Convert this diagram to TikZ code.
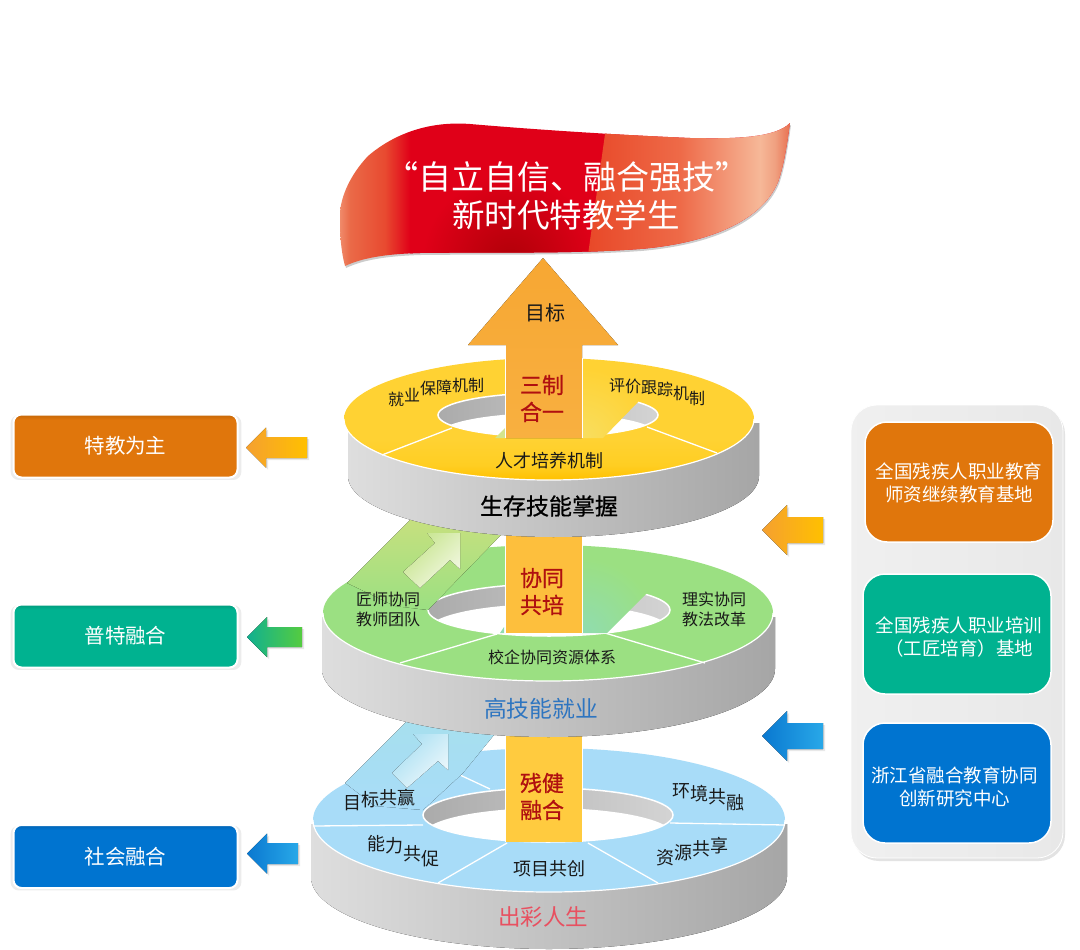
\documentclass[tikz,border=0pt]{standalone}
\usepackage{fontspec}
\setmainfont{Noto Sans CJK SC}
\newfontfamily\heavier[FakeBold=0.8]{Noto Sans CJK SC}
\usetikzlibrary{shadows}
\definecolor{cOrange}{HTML}{E0760C}\definecolor{cOrangeD}{HTML}{C46608}
\definecolor{cTeal}{HTML}{00B290}\definecolor{cTealD}{HTML}{009A7C}
\definecolor{cBlue}{HTML}{0074D0}\definecolor{cBlueD}{HTML}{0064B4}
\definecolor{rGreen}{HTML}{9BE082}\definecolor{rBlue}{HTML}{A8DCF8}
\definecolor{shaftRed}{HTML}{B01010}
\definecolor{yA}{HTML}{FFC000}\definecolor{yB}{HTML}{FFCE22}\definecolor{yC}{HTML}{FFD233}
\definecolor{bA}{HTML}{F08A6A}\definecolor{bB}{HTML}{EA6A48}\definecolor{bC}{HTML}{E84A30}\definecolor{bD}{HTML}{E00018}
\definecolor{bE}{HTML}{E84828}\definecolor{bF}{HTML}{EE6A48}\definecolor{bG}{HTML}{F29070}\definecolor{bH}{HTML}{F6B898}\definecolor{bI}{HTML}{F0A080}\definecolor{bJ}{HTML}{E87050}
\definecolor{bDark}{HTML}{B00008}
\definecolor{aO}{HTML}{F5A030}\definecolor{aG}{HTML}{55CC40}\definecolor{aT}{HTML}{10B090}\definecolor{aB}{HTML}{0A78D0}\definecolor{aC}{HTML}{28A8E8}
\definecolor{shA}{HTML}{F7A733}\definecolor{shAb}{HTML}{F8B040}\definecolor{shB}{HTML}{FDBF3D}\definecolor{shC}{HTML}{FFCB3F}
\definecolor{tBlue}{HTML}{2E75C0}\definecolor{tRose}{HTML}{E85060}
\definecolor{tmpA}{HTML}{A6E0EC}\definecolor{tmpB}{HTML}{A8DFF2}\definecolor{tmpC}{HTML}{EEF8FC}
\definecolor{tmpD}{HTML}{CDE07E}\definecolor{tmpE}{HTML}{C4E48A}\definecolor{tmpF}{HTML}{F4F8E4}
\definecolor{tmpG}{HTML}{90DCB0}\definecolor{tmpH}{HTML}{F8DE60}\definecolor{tmpI}{HTML}{D4E48C}
\pgfdeclareverticalshading{ringyellow}{100bp}{color(0bp)=(yA);color(25bp)=(yA);color(31bp)=(yB);color(42bp)=(yC);color(100bp)=(yC)}
\pgfdeclarehorizontalshading{bannerbase}{100bp}{color(0bp)=(bA);color(25bp)=(bA);color(26.1bp)=(bB);color(30bp)=(bC);color(32.8bp)=(bD);color(100bp)=(bD)}
\pgfdeclarehorizontalshading{bannerright}{100bp}{color(0bp)=(bE);color(25bp)=(bE);color(47.9bp)=(bF);color(57.8bp)=(bG);color(67.6bp)=(bH);color(71.3bp)=(bI);color(75bp)=(bJ);color(100bp)=(bJ)}
\pgfdeclareverticalshading{boxO}{100bp}{color(0bp)=(cOrange);color(71bp)=(cOrange);color(75bp)=(cOrangeD);color(100bp)=(cOrangeD)}
\pgfdeclareverticalshading{boxT}{100bp}{color(0bp)=(cTeal);color(71bp)=(cTeal);color(75bp)=(cTealD);color(100bp)=(cTealD)}
\pgfdeclareverticalshading{boxB}{100bp}{color(0bp)=(cBlue);color(71bp)=(cBlue);color(75bp)=(cBlueD);color(100bp)=(cBlueD)}
\pgfdeclareradialshading{fadeGreen}{\pgfpointorigin}{color(0bp)=(tmpG);color(22bp)=(rGreen);color(50bp)=(rGreen)}
\pgfdeclareradialshading{fadeYellow}{\pgfpointorigin}{color(0bp)=(tmpH);color(22bp)=(yC);color(50bp)=(yC)}
\pgfdeclareradialshading{fadeRed}{\pgfpointorigin}{color(0bp)=(bDark);color(22bp)=(bD);color(50bp)=(bD)}
\newcommand\fsz[1]{\fontsize{#1pt}{#1pt}\selectfont}
\newcommand\rb[2]{\raisebox{#1pt}{#2}}
\newcommand\sidewall[5]{\fill[left color=black!13,middle color=black!20,right color=black!35]
  ({#1-#3},{#2+4}) -- ({#1-#3},{#2+#5}) arc[start angle=180,end angle=360,x radius=#3pt,y radius=#4pt] -- ({#1+#3},{#2+4}) -- cycle;}
\newcommand\ringface[9]{%
  \path[#1] (#2,#3) ellipse[x radius=#4pt,y radius=#5pt];
  \draw[white,line width=1.2pt] ({#2-#4},#3) arc[start angle=180,end angle=360,x radius=#4pt,y radius=#5pt];
  \begin{scope}
    \clip (#6,#7) ellipse[x radius=#8pt,y radius=#9pt];
    \fill[left color=black!33,right color=black!17] ({#6-#8},{#7-#9}) rectangle ({#6+#8},{#7+#9});
    \fill[white] (#6,{#7+20}) ellipse[x radius=#8pt,y radius=#9pt];
  \end{scope}
  \draw[white,line width=1.5pt] (#6,#7) ellipse[x radius=#8pt,y radius=#9pt];}
\newcommand\sarrow[7]{%
  \fill[#7,drop shadow={opacity=.18,shadow xshift=2pt,shadow yshift=-2pt}]
   (#1,#3) -- (#2,{#3-#4}) -- (#2,{#3-#5}) -- (#6,{#3-#5}) -- (#6,{#3+#5}) -- (#2,{#3+#5}) -- (#2,{#3+#4}) -- cycle;}
\newcommand\bannerpath{(345,266) .. controls (362,258) and (385,254) .. (420,253) .. controls (500,252) and (570,254) .. (640,249) .. controls (700,244) and (760,225) .. (778,182) .. controls (784,165) and (787,145) .. (790,123) .. controls (775,138) and (735,139) .. (690,138) .. controls (620,135) and (540,130) .. (470,124) .. controls (430,121) and (395,133) .. (368,156) .. controls (350,175) and (338,200) .. (340,222) .. controls (340,240) and (342,255) .. (345,266) -- cycle}
\tikzset{
  lab/.style={inner sep=0pt,text=black!90},
  wlab/.style={inner sep=0pt,text=white,align=center},
  redlab/.style={inner sep=0pt,text=shaftRed,align=center},
  sidebox/.style={minimum width=224pt,minimum height=63pt,rounded corners=8pt,draw=white,line width=2pt,inner sep=0pt,
     text=white,shade,drop shadow={opacity=.15,shadow xshift=.5pt,shadow yshift=-1.5pt,shadow scale=1.03}},
  basebox/.style={minimum width=188pt,minimum height=120pt,rounded corners=22pt,draw=white,line width=1.5pt,inner sep=0pt,fill=#1},
  divider/.style={white,line width=1.3pt},
}
\begin{document}
\begin{tikzpicture}[x=1pt,y=-1pt]
\useasboundingbox (0,0) rectangle (1080,950);
\fill[white] (0,0) rectangle (1080,950);

% ---------- banner
\fill[black,opacity=.2,xshift=1pt,yshift=-2pt] \bannerpath;
\begin{scope}
 \clip \bannerpath;
 \shade[shading=bannerbase] (340,120) rectangle (790,270);
 \begin{scope}
  \clip (410,120) rectangle (610,270);
  \shade[shading=fadeRed] (410,162) rectangle (610,362);
 \end{scope}
 \shade[shading=bannerright] (607,120) -- (790,120) -- (790,262) -- (587,262) -- cycle;
\end{scope}
\node[wlab,font=\fsz{33}] (bannerA) at (567,177) {“自立自信、融合强技”};
\node[wlab,font=\fsz{32.5}] (bannerB) at (566,215) {新时代特教学生};

% ---------- blue disc
\sidewall{549}{820}{238}{72}{57}
\ringface{fill=rBlue}{549}{820}{236}{72}{548}{815}{125}{27}
\draw[divider] (423,825) -- (313,826);
\draw[divider] (670,823) -- (785,825);
\draw[divider] (507,843) -- (438,883);
\draw[divider] (588,843) -- (658,883);
\draw[divider] (460,775) -- (490,789);
\fill[top color=tmpA,bottom color=rBlue] (345,783) -- (425,703) -- (520,703) -- (463,773) -- (423,810) -- (375,806) -- cycle;
\fill[left color=tmpB,right color=tmpC,shading angle=45] (413,734) -- (448,734) -- (448,770) -- (438,761) -- (407,788) -- (392,773) -- (422,744) -- cycle;
\node[lab,anchor=base west,font=\fsz{18}] (blueA) at (343,809) {目\rb{3}{标}\rb{5}{共}\rb{5}{赢}};
\node[lab,anchor=base west,font=\fsz{18}] (blueB) at (672,797) {环\rb{-3}{境}\rb{-6}{共}\rb{-12}{融}};
\node[lab,anchor=base west,font=\fsz{18}] (blueC) at (367,850) {能\rb{-2}{力}\rb{-10}{共}\rb{-15}{促}};
\node[lab,anchor=base west,font=\fsz{18}] (blueD) at (656,864) {资\rb{5}{源}\rb{9}{共}\rb{12}{享}};
\node[lab,font=\fsz{18}] (blueE) at (549,869) {项目共创};
\node[inner sep=0pt,text=tRose,font=\fsz{22.5}] (blueF) at (543,917) {出彩人生};
\fill[shC] (506,725) rectangle (582,842);
\draw[white,line width=1pt] (505.5,748) -- (505.5,842) (582,748) -- (582,842);
\node[redlab,font=\heavier\fsz{22},text width=50pt] (shaftC) at (542,796.5) {残健\\[5pt]融合};

% ---------- green disc
\sidewall{548.5}{613}{226.5}{68}{56}
\ringface{fill=rGreen}{548}{613}{225}{68}{549}{610}{121}{26}
\draw[divider] (497,634) -- (400,663);
\draw[divider] (605,633) -- (705,663);
\fill[top color=tmpD,bottom color=rGreen] (347,583) -- (425,505) -- (530,505) -- (428,610) -- (395,606) -- cycle;
\fill[left color=tmpE,right color=tmpF,shading angle=45] (427,533) -- (460,533) -- (460,569) -- (450,560) -- (420,588) -- (403,572) -- (435,543) -- cycle;
\begin{scope}
 \clip (582,550) -- (582,633) -- (607,633) -- (647,593) -- (647,558) -- cycle;
 \shade[shading=fadeGreen] (497,548) rectangle (667,718);
\end{scope}
\fill[tmpG] (500,633) -- (504,627) -- (504,633) -- cycle;
\node[lab,align=center,font=\fontsize{16pt}{20pt}\selectfont] (greenA) at (388,609) {匠师协同\\教师团队};
\node[lab,align=center,font=\fontsize{16pt}{20pt}\selectfont] (greenB) at (714,609) {理实协同\\教法改革};
\node[lab,font=\fsz{16}] (greenC) at (552,657) {校企协同资源体系};
\node[inner sep=0pt,text=tBlue,font=\fsz{22.8}] (greenD) at (541,709) {高技能就业};
\fill[shB] (506,520) rectangle (582,633);
\draw[white,line width=1pt] (505.5,545) -- (505.5,633) (582,545) -- (582,633);
\node[redlab,font=\heavier\fsz{22},text width=50pt] (shaftB) at (542,591.5) {协同\\[5pt]共培};

% ---------- yellow disc
\sidewall{553.5}{419}{205.5}{61}{57}
\ringface{shade,shading=ringyellow}{549}{419}{205}{61}{548}{415}{110}{22}
\draw[divider] (452,428) -- (382,455);
\draw[divider] (647,427) -- (717,453);
\begin{scope}
 \clip (582,363) -- (582,438) -- (603,438) -- (638,402) -- (645,372) -- cycle;
 \shade[shading=fadeYellow] (502,358) rectangle (662,518);
\end{scope}
\fill[tmpI] (495,438) -- (505,428) -- (505,438) -- cycle;
\node[lab,anchor=base west,font=\fsz{16}] (yellowA) at (388,405) {就\rb{4}{业}\rb{11}{保}\rb{12}{障}\rb{14}{机}\rb{14}{制}};
\node[lab,anchor=base west,font=\fsz{16}] (yellowB) at (609,391) {评\rb{-1}{价}\rb{-2}{跟}\rb{-4}{踪}\rb{-8}{机}\rb{-13}{制}};
\node[lab,font=\fsz{18}] (yellowC) at (549,461) {人才培养机制};
\node[inner sep=0pt,text=black,font=\heavier\fsz{23}] (yellowD) at (549,506) {生存技能掌握};
% main arrow
\fill[bottom color=shAb,top color=shA] (543,258) -- (618,345) -- (582,345) -- (582,438) -- (506,438) -- (506,345) -- (468,345) -- cycle;
\draw[white,line width=1pt] (505.5,358) -- (505.5,438) (582,358) -- (582,438);
\node[lab,font=\fsz{20}] (goal) at (545,313) {目标};
\node[redlab,font=\heavier\fsz{22},text width=50pt] (shaftA) at (542,398.5) {三制\\[5pt]合一};

% ---------- left column
\node[sidebox,shading=boxO,font=\fsz{20.5}] (leftA) at (125.5,446) {特教为主};
\node[sidebox,shading=boxT,font=\fsz{20.5}] (leftB) at (125.5,636) {普特融合};
\node[sidebox,shading=boxB,font=\fsz{20.5}] (leftC) at (125.5,856.5) {社会融合};
\sarrow{246}{266}{447.5}{20}{10.5}{307}{left color=aO,right color=yA}
\sarrow{247}{267}{637}{20}{10}{302}{left color=aT,right color=aG}
\sarrow{247}{267}{853.5}{20}{10.5}{298}{left color=aB,right color=aC}

% ---------- right panel
\node[minimum width=212pt,minimum height=453pt,rounded corners=26pt,inner sep=0pt,left color=black!6,right color=black!9,draw=white,line width=.8pt,
   drop shadow={opacity=.22,shadow xshift=2pt,shadow yshift=-3pt}] (panel) at (957,631.5) {};
\sarrow{762}{787}{530}{25}{13}{823}{left color=aO,right color=yA}
\sarrow{762}{787}{736}{25}{13}{823}{left color=aB,right color=aC}
\node[basebox=cOrange] (rightA) at (959,482) {};
\node[basebox=cTeal] (rightB) at (957,634) {};
\node[basebox=cBlue] (rightC) at (957,783) {};
\node[wlab,font=\fontsize{18.5pt}{23pt}\selectfont] (rightAt) at (959,482.5) {全国残疾人职业教育\\师资继续教育基地};
\node[wlab,font=\fontsize{18.5pt}{22.5pt}\selectfont] (rightBt) at (959,637) {全国残疾人职业培训\\（工匠培育）基地};
\node[wlab,font=\fontsize{18.5pt}{22.5pt}\selectfont] (rightCt) at (954.5,787) {浙江省融合教育协同\\创新研究中心};
\end{tikzpicture}
\end{document}
